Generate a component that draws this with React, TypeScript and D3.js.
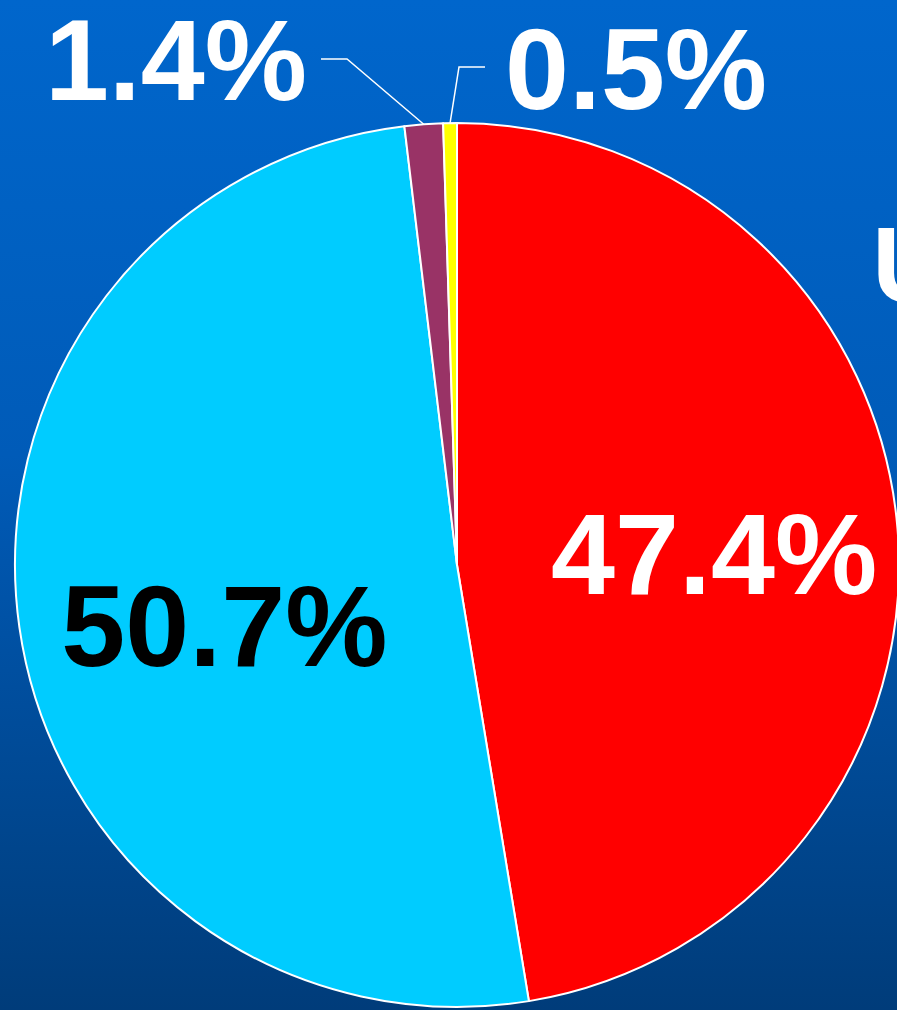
import * as d3 from "d3";
import { useEffect, useRef } from "react";

// slice values, clockwise from 12 o'clock
const shares = [47.4, 50.7, 1.4, 0.5];
const labels = ["47.4%", "50.7%", "1.4%", "0.5%"];
const colors = ["#FF0000", "#00CCFF", "#993366", "#FFFF00"];
const labelColors = ["#FFFFFF", "#000000", "#FFFFFF", "#FFFFFF"];

export default function App() {
    const ref = useRef<SVGSVGElement>(null);

    useEffect(() => {
        const width = 897;
        const height = 1010;
        const cx = 457;
        const cy = 565;
        const radius = 442;
        const fontSize = 115;

        const svg = d3.select(ref.current);
        svg.selectAll("*").remove();

        //    ---------------   BACKGROUND  ------------------------

        const grad = svg.append("defs").append("linearGradient")
            .attr("id", "bg")
            .attr("x1", 0).attr("y1", 0)
            .attr("x2", 0).attr("y2", 1);
        grad.append("stop").attr("offset", "0%").attr("stop-color", "#0066CC");
        grad.append("stop").attr("offset", "45%").attr("stop-color", "#005BB8");
        grad.append("stop").attr("offset", "100%").attr("stop-color", "#003C7A");

        svg.append("rect")
            .attr("width", width)
            .attr("height", height)
            .attr("fill", "url(#bg)");

        // title cut off at the right edge
        svg.append("text")
            .text("U")
            .attr("x", 872)
            .attr("y", 302)
            .attr("fill", "#FFFFFF")
            .attr("font-family", "Liberation Sans, Arial, sans-serif")
            .attr("font-weight", "bold")
            .attr("font-size", 108);

        //    ---------------   PIE  ------------------------

        const pie = d3.pie<number>().sort(null).value((d) => d);
        const arcs = pie(shares);

        const arc = d3.arc<d3.PieArcDatum<number>>()
            .innerRadius(0)
            .outerRadius(radius);

        const g = svg.append("g").attr("transform", `translate(${cx},${cy})`);

        g.selectAll("path")
            .data(arcs)
            .join("path")
            .attr("d", arc)
            .attr("fill", (d, i) => colors[i])
            .attr("stroke", "#FFFFFF")
            .attr("stroke-width", 2)
            .attr("stroke-linejoin", "round");

        //    ---------------   INSIDE LABELS  ------------------------

        const inner = d3.arc<d3.PieArcDatum<number>>();
        const innerR = [258, 240];
        const nudgeY = [9, 26];
        const nudgeX = [0, 5];
        const capHalf = fontSize * 0.716 / 2;

        arcs.slice(0, 2).forEach((d, i) => {
            const [x, y] = inner
                .innerRadius(innerR[i])
                .outerRadius(innerR[i])
                .centroid(d);
            g.append("text")
                .text(labels[i])
                .attr("x", x + nudgeX[i])
                .attr("y", y + nudgeY[i] + capHalf)
                .attr("text-anchor", "middle")
                .attr("fill", labelColors[i])
                .attr("font-family", "Liberation Sans, Arial, sans-serif")
                .attr("font-weight", "bold")
                .attr("font-size", fontSize);
        });

        //    ---------------   OUTSIDE LABELS  ------------------------

        // elbow and label anchor, relative to the pie centre
        const outside = [
            { elbow: [-110, -506], end: [-136, -506], text: [-150, -465], anchor: "end" },
            { elbow: [2, -498], end: [28, -498], text: [48, -456], anchor: "start" },
        ];
        const edge = d3.arc<d3.PieArcDatum<number>>().innerRadius(radius).outerRadius(radius);

        arcs.slice(2).forEach((d, k) => {
            const i = k + 2;
            const o = outside[k];
            const start = edge.centroid(d);
            g.append("path")
                .attr("d", d3.line()([start, o.elbow as [number, number], o.end as [number, number]]))
                .attr("fill", "none")
                .attr("stroke", "#FFFFFF")
                .attr("stroke-width", 1.5);
            g.append("text")
                .text(labels[i])
                .attr("x", o.text[0])
                .attr("y", o.text[1])
                .attr("text-anchor", o.anchor)
                .attr("fill", labelColors[i])
                .attr("font-family", "Liberation Sans, Arial, sans-serif")
                .attr("font-weight", "bold")
                .attr("font-size", fontSize);
        });
    }, []);

    return (
        <svg
            ref={ref}
            width={897}
            height={1010}
            style={{ position: "absolute", left: 0, top: 0, display: "block" }}
        />
    );
}
